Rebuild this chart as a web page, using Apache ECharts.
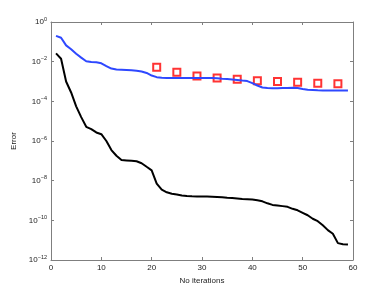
<!DOCTYPE html>
<html>
<head>
<meta charset="utf-8">
<script src="https://cdn.jsdelivr.net/npm/echarts@6/dist/echarts.min.js"></script>
<style>html,body{margin:0;padding:0;background:#fff}#c{width:390px;height:294px}</style>
</head>
<body>
<div id="c"></div>
<script>
var iterations = [1,2,3,4,5,6,7,8,9,10,11,12,13,14,15,16,17,18,19,20,21,22,23,24,25,26,27,28,29,30,31,32,33,34,35,36,37,38,39,40,41,42,43,44,45,46,47,48,49,50,51,52,53,54,55,56,57,58,59];
var blackError = [2.6e-2,1.4e-2,1.0e-3,2.8e-4,5.6e-5,1.6e-5,5.2e-6,4.0e-6,2.7e-6,2.2e-6,1.0e-6,3.5e-7,1.8e-7,1.1e-7,1.05e-7,1.0e-7,9.5e-8,7.6e-8,5.0e-8,3.3e-8,7.1e-9,3.5e-9,2.6e-9,2.2e-9,2.0e-9,1.8e-9,1.7e-9,1.62e-9,1.58e-9,1.58e-9,1.58e-9,1.55e-9,1.5e-9,1.45e-9,1.38e-9,1.32e-9,1.26e-9,1.2e-9,1.17e-9,1.12e-9,1.02e-9,9.1e-10,7.2e-10,6.0e-10,5.6e-10,5.2e-10,4.8e-10,3.8e-10,3.2e-10,2.4e-10,1.8e-10,1.2e-10,9.1e-11,5.6e-11,3.2e-11,2.1e-11,7.1e-12,6.3e-12,6.0e-12];
var blueError = [2.0e-1,1.6e-1,6.6e-2,4.2e-2,2.5e-2,1.6e-2,1.05e-2,9.5e-3,9.3e-3,8.3e-3,6.0e-3,4.5e-3,4.0e-3,3.9e-3,3.8e-3,3.7e-3,3.5e-3,3.2e-3,2.7e-3,2.0e-3,1.66e-3,1.55e-3,1.5e-3,1.5e-3,1.5e-3,1.48e-3,1.48e-3,1.48e-3,1.48e-3,1.48e-3,1.48e-3,1.48e-3,1.45e-3,1.38e-3,1.32e-3,1.26e-3,1.2e-3,1.12e-3,1.05e-3,8.3e-4,6.3e-4,5.0e-4,4.7e-4,4.6e-4,4.6e-4,4.7e-4,4.7e-4,4.8e-4,4.7e-4,4.2e-4,3.8e-4,3.7e-4,3.6e-4,3.55e-4,3.5e-4,3.5e-4,3.5e-4,3.5e-4,3.5e-4];
var redIterations = [21,25,29,33,37,41,45,49,53,57];
var redError = [5.2e-3,2.95e-3,1.9e-3,1.5e-3,1.29e-3,1.1e-3,1.0e-3,9.1e-4,8.1e-4,7.8e-4];
var xTicks = [0,10,20,30,40,50,60];
var yTickExponents = [0,-2,-4,-6,-8,-10,-12];

function pairs(xs, ys){ return xs.map(function(x,i){ return [x, ys[i]]; }); }

var axisColor = '#7f7f7f';
var font = 'Liberation Sans, Arial, sans-serif';
var chart = echarts.init(document.getElementById('c'), null, {renderer:'canvas'});
chart.setOption({
  animation: false,
  backgroundColor: '#fff',
  grid: {left: 51, right: 37, top: 22, bottom: 34},
  xAxis: [{
    type: 'value', min: xTicks[0], max: xTicks[xTicks.length-1], interval: 10,
    name: 'No iterations', nameLocation: 'middle', nameGap: 14,
    nameTextStyle: {fontSize: 8, color: '#222', fontFamily: font},
    axisLine: {lineStyle: {color: axisColor, width: 1}},
    axisTick: {inside: true, length: 3, lineStyle: {color: axisColor}},
    axisLabel: {fontSize: 8, color: '#222', margin: 4, fontFamily: font},
    splitLine: {show: false}
  }, {
    type: 'value', position: 'top', min: 0, max: 60, interval: 10,
    axisLine: {onZero: false, lineStyle: {color: axisColor, width: 1}},
    axisTick: {inside: true, length: 3, lineStyle: {color: axisColor}},
    axisLabel: {show: false}, splitLine: {show: false}
  }],
  yAxis: [{
    type: 'log', logBase: 10, min: 1e-12, max: 1, interval: 2,
    name: 'Error', nameLocation: 'middle', nameGap: 27, nameRotate: 90,
    nameTextStyle: {fontSize: 8, color: '#222', fontFamily: font},
    axisLine: {show: true, lineStyle: {color: axisColor, width: 1}},
    axisTick: {show: true, inside: true, length: 3, lineStyle: {color: axisColor}},
    axisLabel: {
      margin: 4, fontFamily: font,
      formatter: function(v){
        var e = Math.round(Math.log(v)/Math.LN10);
        return '{b|10}{s|' + (e < 0 ? '\u2212' + (-e) : e) + '}';
      },
      rich: {
        b: {fontSize: 8, color: '#222', fontFamily: font},
        s: {fontSize: 5.5, color: '#222', fontFamily: font, padding: [0,0,6,0]}
      }
    },
    splitLine: {show: false}
  }, {
    type: 'log', logBase: 10, min: 1e-12, max: 1, interval: 2, position: 'right',
    axisLine: {show: true, onZero: false, lineStyle: {color: axisColor, width: 1}},
    axisTick: {show: true, inside: true, length: 3, lineStyle: {color: axisColor}},
    axisLabel: {show: false}, splitLine: {show: false}
  }],
  series: [{
    type: 'line', data: pairs(iterations, blackError), showSymbol: false,
    lineStyle: {color: '#000', width: 2}, smooth: false
  }, {
    type: 'line', data: pairs(iterations, blueError), showSymbol: false,
    lineStyle: {color: '#2e48ff', width: 2}
  }, {
    type: 'scatter', data: pairs(redIterations, redError), symbol: 'rect', symbolSize: 7,
    itemStyle: {color: '#fff', borderColor: '#ff0000', borderWidth: 2}
  }]
});
</script>
</body>
</html>
